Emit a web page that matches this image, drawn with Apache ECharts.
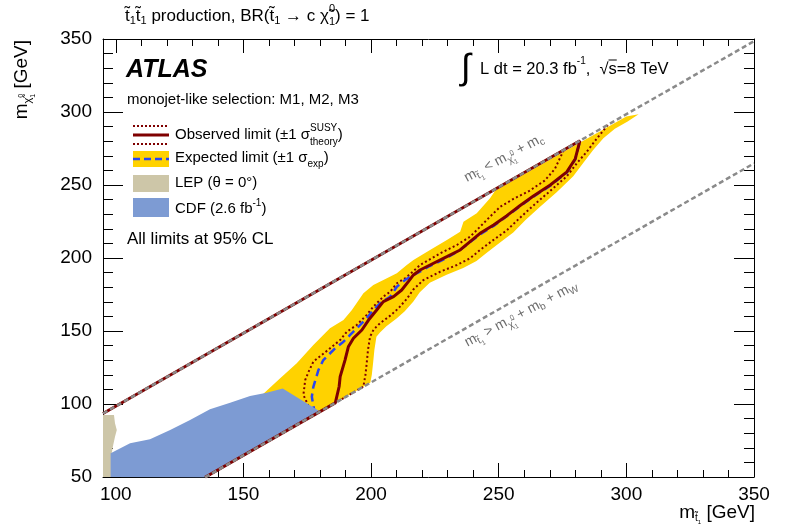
<!DOCTYPE html>
<html>
<head>
<meta charset="utf-8">
<script src="https://cdn.jsdelivr.net/npm/echarts@6/dist/echarts.min.js"></script>
<style>
  html, body { margin: 0; padding: 0; background: #fff; }
  #chart { width: 786px; height: 529px; }
</style>
</head>
<body>
<div id="chart"></div>
<script>
// ---- axis ticks (GeV) ----
const xMajorTicks = [100, 150, 200, 250, 300, 350];
const xMinorTicks = [110, 120, 130, 140, 160, 170, 180, 190, 210, 220, 230, 240, 260, 270, 280, 290, 310, 320, 330, 340];

// ---- kinematic boundaries: m_stop = m_chi + m_c  and  m_stop = m_chi + m_b + m_W ----
const charmBoundary = [[95, 93.5], [350, 348.5]];
const bWBoundary = [[135, 49.8], [350, 264.8]];

// ---- observed limit contour (m_stop, m_chi) ----
const observedLimit = [
  [135, 49.8], [186, 100.8], [187.5, 112], [187.9, 118.7], [189.8, 130.1], [191.1, 139.2],
  [193.1, 145.0], [196.4, 150.7], [199.0, 157.5], [202.2, 164.4], [204.8, 170.1], [208.8, 173.5],
  [212.0, 178.1], [214.6, 183.8], [216.6, 188.4], [219.2, 191.8], [223.1, 195.2], [229.7, 200.9],
  [234.9, 205.5], [238.8, 211.2], [242.7, 216.9], [248.0, 222.6], [253.2, 229], [258.4, 236],
  [263.6, 242.5], [270.2, 250], [276.7, 259], [280.0, 268], [281.8, 280.3], [95, 93.5]
];
// observed -1 sigma (theory)
const observedDown = [
  [177, 93], [173.5, 106.2], [174.2, 116.4], [175.5, 122], [177.4, 129.0], [180.7, 133.6],
  [183.9, 138.1], [187.9, 143.8], [190.5, 149.5], [194.4, 154.1], [198.3, 161.0], [200.9, 166.7],
  [204.8, 173.5], [207.5, 176.9], [210.1, 182.7], [213.3, 186.1], [215.3, 189], [219.2, 195.2],
  [227.1, 203.2], [233.6, 208.9], [238.8, 214.6], [242.7, 221.4], [246.6, 228.3], [250.6, 235.1],
  [255.8, 240.5], [262, 246], [268, 253], [272, 261], [275.5, 274]
];
// observed +1 sigma (theory)
const observedUp = [
  [135, 49.8], [197, 111.8], [197.8, 120], [198.3, 128], [198.8, 137], [199.6, 146.1],
  [201, 151], [203.5, 155.3], [207.5, 160.5], [210.7, 165.5], [214.0, 172], [216.6, 178.5],
  [220.5, 184.9], [227.1, 190.6], [233.6, 195.2], [238.8, 199.8], [242.7, 205.5], [247.9, 212.3],
  [253.2, 219], [258, 227], [263.6, 236], [270.2, 246], [276.7, 256], [280.6, 264.9],
  [284.5, 272.8], [288.5, 282.0], [293, 291.5]
];
// expected limit
const expectedLimit = [
  [178, 93], [176.8, 105.0], [177.4, 111.8], [179.4, 123.3], [181.3, 130.1], [183.3, 133.6],
  [185.9, 138.1], [189.2, 142.7], [191.8, 147.3], [194.4, 151.8], [198.3, 158.7], [200.9, 164.4],
  [203.5, 169.0], [207.5, 173.5], [210.1, 180.3], [213.3, 184.9], [216.6, 188.4], [219.5, 191],
  [223, 194.5], [229.5, 200], [234.5, 205], [238.5, 210.5], [242.5, 216], [248, 222],
  [253, 228.5], [258.4, 235.5], [263.6, 242], [270.2, 249.5], [276.7, 258.5], [280, 267.5], [281.8, 280]
];
// expected +-1 sigma (experimental) band outline
const expectedBand = [
  [170, 84.8], [157.3, 106.2], [164.4, 117.6], [170.9, 127.9], [177.4, 140.4], [183.9, 151.8],
  [189.2, 157.5], [192.5, 164.4], [197.0, 175.8], [200.9, 181.5], [206.2, 186.1], [210.1, 189.5],
  [214.0, 195.2], [216.6, 198.6], [223.1, 205.5], [229.7, 212.3], [234.9, 218.0], [236.2, 224.9],
  [241.4, 230.6], [246.6, 241.0], [248.6, 246.0], [260, 257.3], [280, 277.3], [300, 297],
  [304.8, 298.5], [300.5, 293.5], [295.5, 288.5], [291, 282], [287, 274], [283.1, 265],
  [279.2, 256], [272.7, 245], [266.1, 235], [260.5, 226], [255.7, 217.5], [250.4, 210.5],
  [245.2, 203.5], [241.3, 198], [236.1, 193.2], [229.6, 188.6], [223, 183], [219.1, 176.5],
  [216.5, 170], [213.2, 163.5], [210, 158.5], [206, 153.3], [203.5, 149], [202.1, 146],
  [201.3, 137], [200.8, 128], [200.3, 120], [199.7, 114.5]
];
// LEP exclusion (theta = 0)
const lepRegion = [
  [95, 50], [95, 92.5], [99.3, 92.5], [99.7, 86.8], [100.4, 82.2], [99.7, 77.6],
  [99.0, 71.9], [98.4, 66.2], [98.4, 50]
];
// CDF exclusion (2.6 fb-1)
const cdfRegion = [
  [98.0, 50], [98.0, 66.2], [105.6, 73.1], [113.4, 75.8], [121.3, 82.2], [129.1, 89],
  [136.9, 96.4], [144.8, 100.9], [152.6, 105.5], [159.1, 107.7], [165.4, 110.7], [180, 94.8], [135, 49.8]
];

// ---- colours ----
const RED = '#7f0000';
const YELLOW = '#ffd200';
const BLUE = '#2a46f2';
const LEP_COLOR = '#cdc6a8';
const CDF_COLOR = '#7d9bd3';
const GREY = '#8a8a8a';
const FONT = '"Liberation Sans", Arial, Helvetica, sans-serif';

// ---- text helpers (sub/superscript runs) ----
const meas = document.createElement('canvas').getContext('2d');
function textWidth(t, size, weight, style) {
  meas.font = (style || 'normal') + ' ' + (weight || 'normal') + ' ' + size + 'px ' + FONT;
  return meas.measureText(t).width;
}
function piece(x, y, t, size, color, extra) {
  return {
    type: 'text', x: x, y: y, silent: true,
    style: Object.assign({
      text: t, fontSize: size, fontFamily: FONT, fill: color,
      align: 'left', verticalAlign: 'middle', textAlign: 'left', textVerticalAlign: 'middle'
    }, extra || {})
  };
}
function textRun(x, y, seq, opt) {
  opt = opt || {};
  const color = opt.color || '#000';
  const kids = [];
  let cx = 0;
  seq.forEach(function (p) {
    if (p.t !== undefined) {
      const ex = p.extra || {};
      kids.push(piece(cx, p.dy || 0, p.t, p.s, color, ex));
      const w = textWidth(p.t, p.s, ex.fontWeight, ex.fontStyle);
      if (p.bar !== undefined) {
        kids.push({ type: 'line', silent: true, shape: { x1: cx, y1: p.bar, x2: cx + w, y2: p.bar }, style: { stroke: color, lineWidth: 1 } });
      }
      cx += w;
    } else {
      const w = Math.max(p.sup ? textWidth(p.sup, p.s) : 0, p.sub ? textWidth(p.sub, p.s) : 0);
      if (p.sup) kids.push(piece(cx, p.up, p.sup, p.s, color));
      if (p.sub) kids.push(piece(cx, p.down, p.sub, p.s, color));
      cx += w;
    }
  });
  const shift = opt.anchor === 'right' ? -cx : (opt.anchor === 'center' ? -cx / 2 : 0);
  kids.forEach(function (k) {
    if (k.type === 'text') k.x += shift;
    else { k.shape.x1 += shift; k.shape.x2 += shift; }
  });
  return { type: 'group', x: x, y: y, rotation: opt.rotation || 0, silent: true, children: kids };
}

// ---- series helpers ----
function regionSeries(name, pts, color, z) {
  return {
    type: 'custom', name: name, z: z, silent: true, animation: false,
    xAxisIndex: 0, yAxisIndex: 0,
    data: [pts[0]],
    renderItem: function (params, api) {
      return {
        type: 'polygon',
        shape: { points: pts.map(function (p) { return api.coord(p); }) },
        style: { fill: color }
      };
    }
  };
}
function curveSeries(name, pts, color, width, dash, z) {
  return {
    type: 'line', name: name, data: pts, z: z, silent: true, animation: false,
    xAxisIndex: 0, yAxisIndex: 0,
    showSymbol: false, symbol: 'none', smooth: false,
    lineStyle: { color: color, width: width, type: dash || 'solid', cap: 'butt' }
  };
}

const black = { color: '#000', width: 1 };
function xAxisDef(pos, ticks, len, labels, line) {
  return {
    type: 'value', min: 95, max: 350, position: pos,
    axisLine: { show: line, onZero: false, lineStyle: black },
    axisTick: { show: true, inside: true, length: len, customValues: ticks, lineStyle: black },
    axisLabel: labels ? { show: true, customValues: xMajorTicks, fontSize: 19, color: '#000', fontFamily: FONT, margin: 8 } : { show: false },
    splitLine: { show: false }
  };
}
function yAxisDef(pos, labels) {
  return {
    type: 'value', min: 50, max: 350, interval: 50, position: pos,
    axisLine: { show: true, onZero: false, lineStyle: black },
    axisTick: { show: true, inside: true, length: 20, lineStyle: black },
    minorTick: { show: true, splitNumber: 5, length: 10, lineStyle: black },
    axisLabel: labels ? { show: true, fontSize: 19, color: '#000', fontFamily: FONT, margin: 11 } : { show: false },
    splitLine: { show: false }, minorSplitLine: { show: false }
  };
}

const chart = echarts.init(document.getElementById('chart'), null, { renderer: 'canvas' });

const graphics = [
  // header
  textRun(125, 16, [
    { t: 't\u0303', s: 17 }, { t: '1', s: 11, dy: 5 }, { t: 't\u0303', s: 17 }, { t: '1', s: 11, dy: 5 },
    { t: ' production, BR(', s: 17 }, { t: 't\u0303', s: 17 }, { t: '1', s: 11, dy: 5 },
    { t: ' \u2192 c ', s: 17 }, { t: '\u03c7\u0303', s: 17 }, { sup: '0', sub: '1', s: 11, up: -7, down: 6 },
    { t: ') = 1', s: 17 }
  ]),
  textRun(126, 70, [{ t: 'ATLAS', s: 25, extra: { fontWeight: 'bold', fontStyle: 'italic' } }]),
  textRun(127, 100, [{ t: 'monojet-like selection: M1, M2, M3', s: 15 }]),
  // luminosity and energy
  textRun(461, 69, [
    { t: '\u222b', s: 36, dy: 0 }, { t: '  L dt = 20.3 fb', s: 16.5 }, { sup: '-1', s: 10, up: -8 },
    { t: ',  \u221a', s: 16.5 }, { t: 's', s: 16.5, bar: -9 }, { t: '=8 TeV', s: 16.5 }
  ]),
  // legend: observed
  { type: 'line', silent: true, shape: { x1: 133, y1: 126, x2: 169, y2: 126 }, style: { stroke: RED, lineWidth: 2, lineDash: [2, 2] } },
  { type: 'line', silent: true, shape: { x1: 133, y1: 135, x2: 169, y2: 135 }, style: { stroke: RED, lineWidth: 3 } },
  { type: 'line', silent: true, shape: { x1: 133, y1: 144, x2: 169, y2: 144 }, style: { stroke: RED, lineWidth: 2, lineDash: [2, 2] } },
  textRun(175, 135, [
    { t: 'Observed limit (\u00b11 \u03c3', s: 15 }, { sup: 'SUSY', sub: 'theory', s: 10, up: -7, down: 7 }, { t: ')', s: 15 }
  ]),
  // legend: expected
  { type: 'rect', silent: true, shape: { x: 133, y: 151, width: 36, height: 16 }, style: { fill: YELLOW } },
  { type: 'line', silent: true, shape: { x1: 133, y1: 159, x2: 169, y2: 159 }, style: { stroke: BLUE, lineWidth: 2.5, lineDash: [7, 4] } },
  textRun(175, 158, [
    { t: 'Expected limit (\u00b11 \u03c3', s: 15 }, { t: 'exp', s: 10, dy: 6 }, { t: ')', s: 15 }
  ]),
  // legend: LEP
  { type: 'rect', silent: true, shape: { x: 133, y: 175, width: 36, height: 17 }, style: { fill: LEP_COLOR } },
  textRun(175, 183, [{ t: 'LEP (\u03b8 = 0\u00b0)', s: 15 }]),
  // legend: CDF
  { type: 'rect', silent: true, shape: { x: 133, y: 198, width: 36, height: 19 }, style: { fill: CDF_COLOR } },
  textRun(175, 209, [{ t: 'CDF (2.6 fb', s: 15 }, { sup: '-1', s: 10, up: -6 }, { t: ')', s: 15 }]),
  textRun(127, 239, [{ t: 'All limits at 95% CL', s: 17 }]),
  // axis titles
  textRun(22, 40, [
    { t: 'm', s: 19 }, { t: '\u03c7\u0303', s: 11, dy: 6 }, { sup: '0', sub: '1', s: 7, up: -1, down: 11 },
    { t: ' [GeV]', s: 19 }
  ], { anchor: 'right', rotation: Math.PI / 2 }),
  textRun(755, 513, [
    { t: 'm', s: 19 }, { t: 't\u0303', s: 10, dy: 5 }, { t: '1', s: 6, dy: 9 }, { t: ' [GeV]', s: 19 }
  ], { anchor: 'right' }),
  // kinematic boundary labels
  textRun(504, 158, [
    { t: 'm', s: 14 }, { t: 't\u0303', s: 10, dy: 4 }, { t: '1', s: 7, dy: 8 }, { t: ' < m', s: 14 },
    { t: '\u03c7\u0303', s: 10, dy: 5 }, { sup: '0', sub: '1', s: 7, up: -1, down: 9 },
    { t: ' + m', s: 14 }, { t: 'c', s: 10, dy: 4 }
  ], { anchor: 'center', rotation: 28 * Math.PI / 180, color: '#6e6e6e' }),
  textRun(521, 314, [
    { t: 'm', s: 14 }, { t: 't\u0303', s: 10, dy: 4 }, { t: '1', s: 7, dy: 8 }, { t: ' > m', s: 14 },
    { t: '\u03c7\u0303', s: 10, dy: 5 }, { sup: '0', sub: '1', s: 7, up: -1, down: 9 },
    { t: ' + m', s: 14 }, { t: 'b', s: 10, dy: 4 }, { t: ' + m', s: 14 }, { t: 'W', s: 10, dy: 4 }
  ], { anchor: 'center', rotation: 28 * Math.PI / 180, color: '#6e6e6e' })
];

chart.setOption({
  animation: false,
  backgroundColor: '#fff',
  grid: { left: 103, right: 32, top: 39, bottom: 52, containLabel: false, outerBoundsMode: 'none' },
  xAxis: [
    xAxisDef('bottom', xMajorTicks, 14, true, true),
    xAxisDef('bottom', xMinorTicks, 7, false, false),
    xAxisDef('top', xMajorTicks, 14, false, true),
    xAxisDef('top', xMinorTicks, 7, false, false)
  ],
  yAxis: [yAxisDef('left', true), yAxisDef('right', false)],
  series: [
    regionSeries('Expected band', expectedBand, YELLOW, 1),
    curveSeries('Observed -1 sigma', observedDown, RED, 2, [2, 2.5], 3),
    curveSeries('Observed +1 sigma', observedUp, RED, 2, [2, 2.5], 3),
    curveSeries('Expected limit', expectedLimit, BLUE, 2.5, [8, 5], 4),
    regionSeries('LEP', lepRegion, LEP_COLOR, 5),
    regionSeries('CDF', cdfRegion, CDF_COLOR, 5),
    curveSeries('Observed limit', observedLimit, RED, 3, 'solid', 6),
    curveSeries('m_c boundary', charmBoundary, GREY, 2.5, [5, 3], 7),
    curveSeries('m_b + m_W boundary', bWBoundary, GREY, 2.5, [5, 3], 7)
  ],
  graphic: graphics
});
</script>
</body>
</html>
